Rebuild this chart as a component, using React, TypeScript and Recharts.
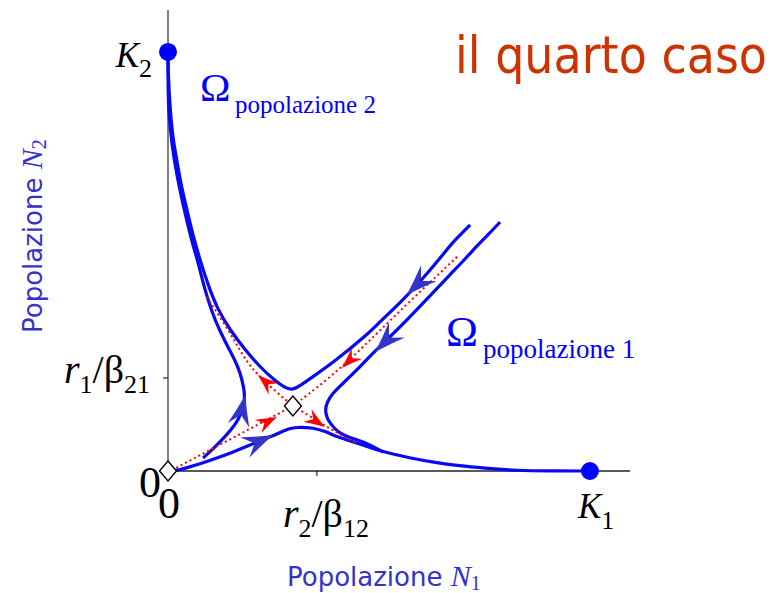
import React from 'react';
import { ComposedChart, Scatter, XAxis, YAxis, Customized } from 'recharts';

// ---- layout ----
const CHART_W = 782;
const CHART_H = 593;
const MARGIN = { top: 10, right: 152, bottom: 0, left: 0 };
const Y_AXIS_W = 168;
const X_AXIS_H = 122;
const PLOT_W = CHART_W - MARGIN.left - MARGIN.right - Y_AXIS_W;
const PLOT_H = CHART_H - MARGIN.top - MARGIN.bottom - X_AXIS_H;

// ---- domain (population units) ----
const X_MAX = 109.5;
const Y_MAX = 110;

// carrying capacities and nullcline intercepts
const K1 = 100;
const K2 = 100;
const R2_B12 = 35.3;
const R1_B21 = 22.2;

const xTicks = [0, R2_B12, K1];
const yTicks = [0, R1_B21, K2];

type Pt = { x: number; y: number };
type Arrow = { x: number; y: number; bx: number; by: number };

// equilibria
const saddle: Pt[] = [{ x: 29.6, y: 15.5 }];
const origin: Pt[] = [{ x: 0, y: 0 }];
const stableNodes: Pt[] = [
  { x: K1, y: 0 },
  { x: 0, y: K2 },
];

// trajectory reaching K2 after passing above the saddle, coming from the upper right
const trajUpper: Pt[] = [
  { x: 0, y: 100 }, { x: 0, y: 95.7 }, { x: 0.5, y: 86.1 }, { x: 1.2, y: 79.0 },
  { x: 2.1, y: 74.2 }, { x: 3.1, y: 68.2 }, { x: 4.5, y: 62.3 }, { x: 5.9, y: 56.3 },
  { x: 7.6, y: 50.3 }, { x: 9.5, y: 44.4 }, { x: 11.6, y: 38.9 }, { x: 14.7, y: 33.6 },
  { x: 18.3, y: 28.9 }, { x: 21.8, y: 24.8 }, { x: 25.4, y: 21.5 }, { x: 27.8, y: 19.8 },
  { x: 29.4, y: 19.3 }, { x: 31.3, y: 20.3 }, { x: 33.6, y: 22.0 }, { x: 39.1, y: 25.8 },
  { x: 47.2, y: 32.5 }, { x: 50.2, y: 35.6 }, { x: 55.0, y: 40.1 }, { x: 59.7, y: 45.1 },
  { x: 64.5, y: 50.8 }, { x: 67.5, y: 54.6 }, { x: 69.9, y: 57.0 }, { x: 71.6, y: 58.7 },
];

// trajectory leaving the origin region and climbing to K2
const trajLeft: Pt[] = [
  { x: 8.3, y: 3.1 }, { x: 10.4, y: 5.0 }, { x: 14.0, y: 8.6 }, { x: 17.1, y: 12.6 },
  { x: 18.3, y: 16.9 }, { x: 18.0, y: 19.8 }, { x: 17.1, y: 23.6 }, { x: 15.6, y: 27.0 },
  { x: 13.7, y: 30.5 }, { x: 11.1, y: 36.0 }, { x: 9.5, y: 40.8 }, { x: 8.3, y: 44.9 },
  { x: 7.3, y: 49.2 }, { x: 5.9, y: 53.9 }, { x: 4.7, y: 58.7 }, { x: 3.3, y: 64.7 },
  { x: 2.1, y: 70.6 }, { x: 0.9, y: 77.8 }, { x: 0.1, y: 86.1 }, { x: 0, y: 93.3 },
  { x: 0, y: 99.3 },
];

// trajectory leaving the origin region and settling at K1
const trajLower: Pt[] = [
  { x: 0.9, y: 0 }, { x: 2.4, y: 0.2 }, { x: 5.2, y: 1.0 }, { x: 7.6, y: 1.7 },
  { x: 11.1, y: 2.9 }, { x: 15.4, y: 4.5 }, { x: 19.0, y: 6.0 }, { x: 21.8, y: 7.2 },
  { x: 25.8, y: 8.8 }, { x: 28.9, y: 10.3 }, { x: 31.3, y: 10.5 }, { x: 34.4, y: 10.3 },
  { x: 37.2, y: 9.5 }, { x: 40.1, y: 8.1 }, { x: 44.8, y: 6.7 }, { x: 51.0, y: 4.5 },
  { x: 57.4, y: 3.1 }, { x: 62.8, y: 2.1 }, { x: 69.2, y: 1.2 }, { x: 74.7, y: 0.7 },
  { x: 82.7, y: 0.1 }, { x: 90.5, y: 0 }, { x: 100, y: 0 },
];

// trajectory from the upper right passing below the saddle towards K1
const trajRight: Pt[] = [
  { x: 78.7, y: 59.4 }, { x: 75.8, y: 56.3 }, { x: 73.2, y: 53.7 }, { x: 70.9, y: 51.1 },
  { x: 66.8, y: 46.8 }, { x: 62.1, y: 41.8 }, { x: 56.6, y: 36.0 }, { x: 52.6, y: 32.0 },
  { x: 48.6, y: 28.2 }, { x: 44.3, y: 23.6 }, { x: 40.8, y: 20.3 }, { x: 39.1, y: 18.6 },
  { x: 37.7, y: 16.5 }, { x: 37.2, y: 14.6 }, { x: 37.7, y: 12.6 }, { x: 38.4, y: 11.5 },
  { x: 40.1, y: 9.3 }, { x: 43.1, y: 7.9 }, { x: 47.2, y: 6.7 }, { x: 51.0, y: 4.5 },
];

// saddle manifolds
const stableFromOrigin: Pt[] = [
  { x: 0.9, y: 0.2 }, { x: 29.6, y: 15.5 },
];
const stableFromAbove: Pt[] = [
  { x: 29.6, y: 15.5 }, { x: 40.8, y: 24.1 }, { x: 52.6, y: 36.0 }, { x: 68.5, y: 51.1 },
];
const unstableToK2: Pt[] = [
  { x: 9.2, y: 41.5 }, { x: 12.8, y: 36.0 }, { x: 16.1, y: 30.5 }, { x: 18.7, y: 26.0 },
  { x: 21.3, y: 22.9 }, { x: 25.4, y: 19.1 }, { x: 29.6, y: 15.5 },
];
const unstableToK1: Pt[] = [
  { x: 29.6, y: 15.5 }, { x: 33.6, y: 13.1 }, { x: 37.4, y: 10.7 }, { x: 40.8, y: 8.8 },
  { x: 44.3, y: 6.7 },
];

// direction markers: tip (x, y) and a point behind it along the path (bx, by)
const trajArrows: Arrow[] = [
  { x: 56.6, y: 42.0, bx: 59.7, by: 45.1 },
  { x: 49.1, y: 28.4, bx: 52.6, by: 32.0 },
  { x: 18.3, y: 18.1, bx: 17.1, by: 12.6 },
  { x: 24.9, y: 8.6, bx: 21.8, by: 7.2 },
];
const manifoldArrows: Arrow[] = [
  { x: 25.8, y: 12.9, bx: 0.9, by: 0.2 },
  { x: 41.2, y: 24.6, bx: 68.5, by: 51.1 },
  { x: 21.3, y: 22.9, bx: 29.6, by: 15.5 },
  { x: 37.2, y: 10.5, bx: 29.6, by: 15.5 },
];

// ---- styles ----
const BLUE = '#0808f4';
const ARROW_BLUE = '#3434c8';
const RED = '#ff0000';
const LABEL_BLUE = '#3333cc';
const TITLE_RED = '#cc3300';
const SERIF = "'Liberation Serif', 'Times New Roman', serif";
const SANS = "'DejaVu Sans', Verdana, sans-serif";

const SX = PLOT_W / X_MAX;
const SY = PLOT_H / Y_MAX;

const NoDot = () => <g />;

const makeArrow = (color: string, L: number, W: number, N: number) => (props: any) => {
  const { cx, cy, payload } = props;
  const vx = (payload.x - payload.bx) * SX;
  const vy = -(payload.y - payload.by) * SY;
  const ang = (Math.atan2(vy, vx) * 180) / Math.PI;
  return (
    <path
      d={`M0,0 Q${-L * 0.5},${-W * 0.45} ${-L},${-W} L${-L + N},0 L${-L},${W} Q${-L * 0.5},${W * 0.45} 0,0 Z`}
      transform={`translate(${cx},${cy}) rotate(${ang})`}
      fill={color}
    />
  );
};

const BlueArrow = makeArrow(ARROW_BLUE, 31, 11, 11);
const RedArrow = makeArrow(RED, 21, 7.5, 7);

const Diamond = (props: any) => {
  const { cx, cy } = props;
  return (
    <path
      d={`M${cx},${cy - 10} L${cx + 8.5},${cy} L${cx},${cy + 10} L${cx - 8.5},${cy} Z`}
      fill="#fff"
      stroke="#000"
      strokeWidth={1.4}
    />
  );
};

const NodeDot = (props: any) => <circle cx={props.cx} cy={props.cy} r={9} fill="#0000ff" />;

const XTick = (props: any) => {
  const { x, y, payload } = props;
  const v = payload.value;
  if (v === 0) {
    return (
      <text x={x + 1} y={y + 47} textAnchor="middle" fontFamily={SERIF} fontSize={44} fill="#000">
        0
      </text>
    );
  }
  if (v === K1) {
    return (
      <text x={x - 12} y={y + 47} fontFamily={SERIF} fontSize={35} fill="#000">
        <tspan fontStyle="italic">K</tspan>
        <tspan fontSize={26} dy={11}>1</tspan>
      </text>
    );
  }
  return (
    <g>
      <line x1={x} y1={y} x2={x} y2={y + 5} stroke="#000" strokeWidth={1} />
      <text x={x - 34} y={y + 56} fontFamily={SERIF} fontSize={40} fill="#000">
        <tspan fontStyle="italic">r</tspan>
        <tspan fontSize={26} dy={10}>2</tspan>
        <tspan dy={-10}>/β</tspan>
        <tspan fontSize={26} dy={10}>12</tspan>
      </text>
    </g>
  );
};

const YTick = (props: any) => {
  const { x, y, payload } = props;
  const v = payload.value;
  if (v === 0) {
    return (
      <text x={x - 7} y={y + 26} textAnchor="end" fontFamily={SERIF} fontSize={44} fill="#000">
        0
      </text>
    );
  }
  if (v === K2) {
    return (
      <text x={x - 16} y={y + 15} textAnchor="end" fontFamily={SERIF} fontSize={35} fill="#000">
        <tspan fontStyle="italic">K</tspan>
        <tspan fontSize={26} dy={10}>2</tspan>
      </text>
    );
  }
  return (
    <g>
      <line x1={x - 5} y1={y} x2={x} y2={y} stroke="#000" strokeWidth={1} />
      <text x={x - 18} y={y + 5} textAnchor="end" fontFamily={SERIF} fontSize={40} fill="#000">
        <tspan fontStyle="italic">r</tspan>
        <tspan fontSize={26} dy={10}>1</tspan>
        <tspan dy={-10}>/β</tspan>
        <tspan fontSize={26} dy={10}>21</tspan>
      </text>
    </g>
  );
};

const Annotations = () => (
  <g>
    <text x={455} y={73} fontFamily={SANS} fontSize={52} fill={TITLE_RED} textLength={312} lengthAdjust="spacingAndGlyphs">
      il quarto caso
    </text>

    <text x={200} y={101} fontFamily={SERIF} fontSize={41} fill="#0000ff">Ω</text>
    <text x={235} y={113} fontFamily={SERIF} fontSize={25} fill="#0000ff">popolazione 2</text>
    <text x={446} y={346} fontFamily={SERIF} fontSize={43} fill="#0000ff">Ω</text>
    <text x={483} y={358} fontFamily={SERIF} fontSize={27} fill="#0000ff">popolazione 1</text>

    <text x={287} y={586} fontFamily={SANS} fontSize={26} fill={LABEL_BLUE}>
      Popolazione{' '}
      <tspan fontFamily={SERIF} fontStyle="italic" fontSize={30}>N</tspan>
      <tspan fontFamily={SERIF} fontSize={20} dy={4}>1</tspan>
    </text>

    <text
      x={0}
      y={0}
      transform="translate(42,333) rotate(-90)"
      fontFamily={SANS}
      fontSize={26}
      fill={LABEL_BLUE}
    >
      Popolazione{' '}
      <tspan fontFamily={SERIF} fontStyle="italic" fontSize={30}>N</tspan>
      <tspan fontFamily={SERIF} fontSize={20} dy={4}>2</tspan>
    </text>
  </g>
);

const curve = (stroke: string, width: number, dash?: string) => ({
  stroke,
  strokeWidth: width,
  strokeDasharray: dash,
  strokeLinejoin: 'round' as const,
});

export default function App() {
  return (
    <div style={{ position: 'absolute', left: 0, top: 0, width: CHART_W, height: CHART_H, background: '#fff' }}>
      <ComposedChart width={CHART_W} height={CHART_H} margin={MARGIN}>
        <XAxis
          type="number"
          dataKey="x"
          domain={[0, X_MAX]}
          ticks={xTicks}
          height={X_AXIS_H}
          axisLine={{ stroke: '#222', strokeWidth: 1.4 }}
          tickLine={false}
          tickSize={0}
          tickMargin={0}
          interval={0}
          tick={<XTick />}
        />
        <YAxis
          type="number"
          dataKey="y"
          domain={[0, Y_MAX]}
          ticks={yTicks}
          width={Y_AXIS_W}
          axisLine={{ stroke: '#000', strokeWidth: 1 }}
          tickLine={false}
          tickSize={0}
          tickMargin={0}
          interval={0}
          tick={<YTick />}
        />

        <Scatter data={trajUpper} line={curve(BLUE, 3.2)} lineJointType="basis" shape={NoDot} isAnimationActive={false} />
        <Scatter data={trajLeft} line={curve(BLUE, 3.2)} lineJointType="basis" shape={NoDot} isAnimationActive={false} />
        <Scatter data={trajLower} line={curve(BLUE, 3.2)} lineJointType="basis" shape={NoDot} isAnimationActive={false} />
        <Scatter data={trajRight} line={curve(BLUE, 3.2)} lineJointType="basis" shape={NoDot} isAnimationActive={false} />

        <Scatter data={stableFromOrigin} line={curve(RED, 2, '2 3')} lineJointType="linear" shape={NoDot} isAnimationActive={false} />
        <Scatter data={stableFromAbove} line={curve(RED, 2, '2 3')} lineJointType="basis" shape={NoDot} isAnimationActive={false} />
        <Scatter data={unstableToK2} line={curve(RED, 2, '2 3')} lineJointType="basis" shape={NoDot} isAnimationActive={false} />
        <Scatter data={unstableToK1} line={curve(RED, 2, '2 3')} lineJointType="basis" shape={NoDot} isAnimationActive={false} />

        <Scatter data={trajArrows} shape={BlueArrow} isAnimationActive={false} />
        <Scatter data={manifoldArrows} shape={RedArrow} isAnimationActive={false} />

        <Scatter data={saddle} shape={Diamond} isAnimationActive={false} />
        <Scatter data={origin} shape={Diamond} isAnimationActive={false} />
        <Scatter data={stableNodes} shape={NodeDot} isAnimationActive={false} />

        <Customized component={Annotations} />
      </ComposedChart>
    </div>
  );
}
